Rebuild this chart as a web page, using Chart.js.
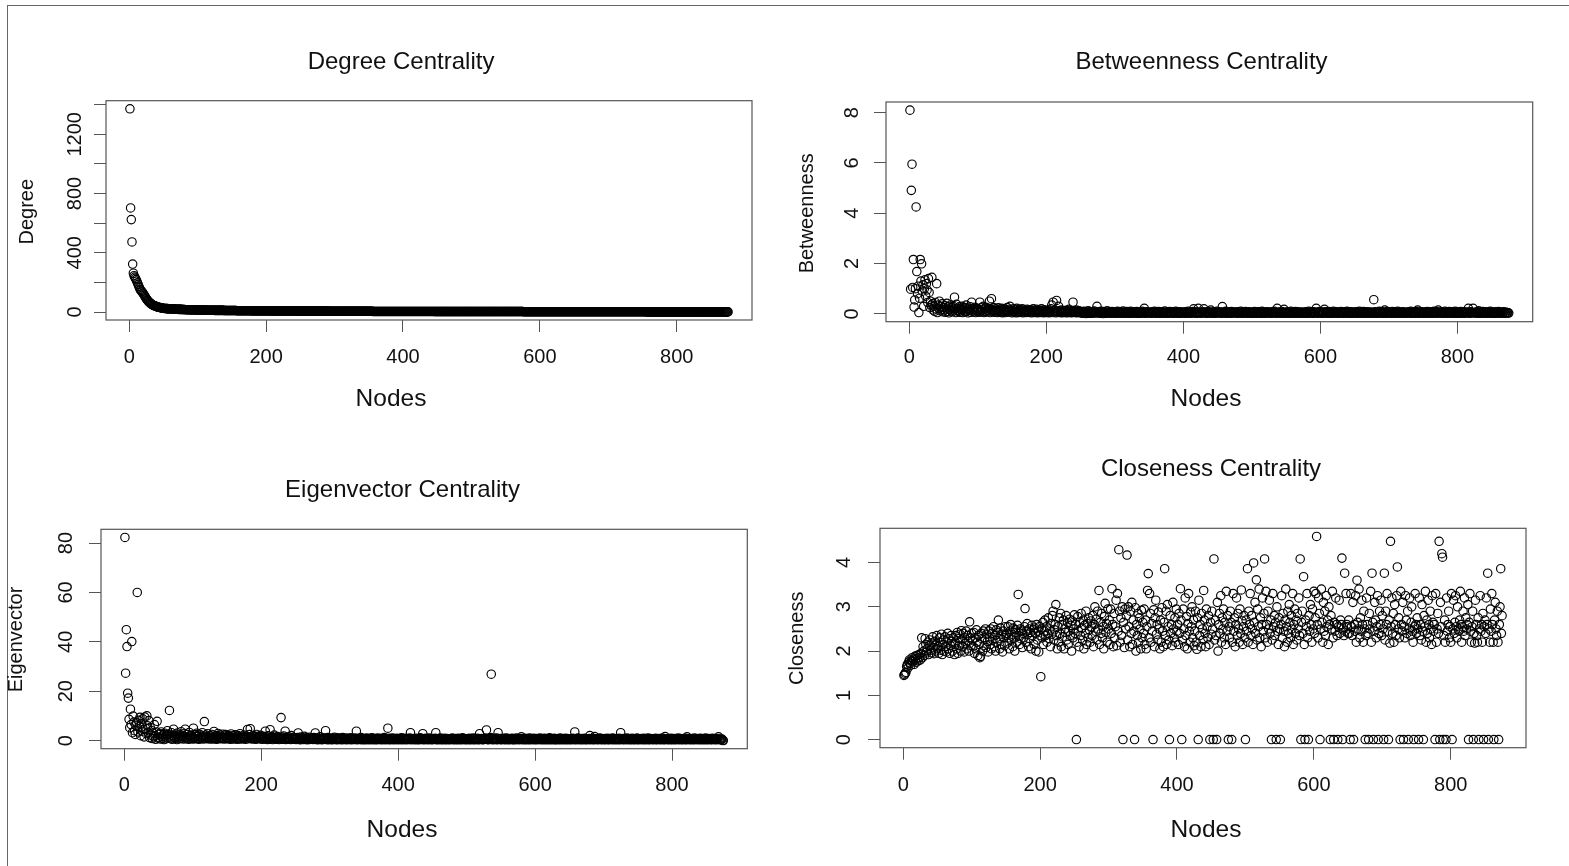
<!DOCTYPE html>
<html>
<head>
<meta charset="utf-8">
<title>Centrality measures</title>
<script src="https://cdn.jsdelivr.net/npm/chart.js@4.4.1/dist/chart.umd.min.js"></script>
<style>
  html, body { margin: 0; padding: 0; background: #fff; }
  #page { position: relative; width: 1569px; height: 866px; overflow: hidden; background: #fff; }
  #frame { position: absolute; left: 7px; top: 5px; right: -4px; bottom: -4px;
           border-left: 1.5px solid #666; border-top: 1.5px solid #666; }
  canvas { position: absolute; }
</style>
</head>
<body>
<div id="page">
  <div id="frame"></div>
  <canvas id="degreeChart"></canvas>
  <canvas id="betweennessChart"></canvas>
  <canvas id="eigenvectorChart"></canvas>
  <canvas id="closenessChart"></canvas>
</div>
<script>
// Nodes are numbered 1..875 in every panel (sorted by degree)
const xTicks = [0, 200, 400, 600, 800];

// Degree centrality, sorted high to low
const degree = [
  1372, 703, 624, 473, 324, 262, 245, 236, 228, 219,
  208, 197, 186, 174, 163, 152, 146, 140, 134, 128,
  121, 113, 105, 97, 90, 83, 77, 72, 67, 63,
  59, 55, 52, 49, 46, 44, 42, 40, 38, 36,
  34, 33, 32, 31, 30, 29, 28, 27, 26, 25,
  24, 24, 24, 23, 23,  23, 22, 22, 22, 21,  21, 21, 21, 20, 20,  20, 20, 19, 19, 19,  19, 18, 18, 18, 18,
  18, 17, 17, 17, 17,  17, 16, 16, 16, 16,  16, 16, 15, 15, 15,  15, 15, 15, 15, 14,  14, 14, 14, 14, 14,
  14, 14, 13, 13, 13,  13, 13, 13, 13, 13,  13, 13, 12, 12, 12,  12, 12, 12, 12, 12,  12, 12, 12, 12, 11,
  11, 11, 11, 11, 11,  11, 11, 11, 11, 11,  11, 11, 11, 10, 10,  10, 10, 10, 10, 10,  10, 10, 10, 10, 10,
  10, 10, 10, 10, 10,  10, 9, 9, 9, 9,  9, 9, 9, 9, 9,  9, 9, 9, 9, 9,  9, 9, 9, 9, 9,
  9, 9, 9, 8, 8,  8, 8, 8, 8, 8,  8, 8, 8, 8, 8,  8, 8, 8, 8, 8,  8, 8, 8, 8, 8,
  8, 8, 8, 8, 8,  8, 7, 7, 7, 7,  7, 7, 7, 7, 7,  7, 7, 7, 7, 7,  7, 7, 7, 7, 7,
  7, 7, 7, 7, 7,  7, 7, 7, 7, 7,  7, 7, 7, 7, 7,  7, 7, 6, 6, 6,  6, 6, 6, 6, 6,
  6, 6, 6, 6, 6,  6, 6, 6, 6, 6,  6, 6, 6, 6, 6,  6, 6, 6, 6, 6,  6, 6, 6, 6, 6,
  6, 6, 6, 6, 6,  6, 6, 6, 6, 6,  6, 6, 6, 6, 6,  5, 5, 5, 5, 5,  5, 5, 5, 5, 5,
  5, 5, 5, 5, 5,  5, 5, 5, 5, 5,  5, 5, 5, 5, 5,  5, 5, 5, 5, 5,  5, 5, 5, 5, 5,
  5, 5, 5, 5, 5,  5, 5, 5, 5, 5,  5, 5, 5, 5, 5,  5, 5, 5, 5, 5,  5, 5, 5, 5, 5,
  5, 5, 5, 5, 5,  4, 4, 4, 4, 4,  4, 4, 4, 4, 4,  4, 4, 4, 4, 4,  4, 4, 4, 4, 4,
  4, 4, 4, 4, 4,  4, 4, 4, 4, 4,  4, 4, 4, 4, 4,  4, 4, 4, 4, 4,  4, 4, 4, 4, 4,
  4, 4, 4, 4, 4,  4, 4, 4, 4, 4,  4, 4, 4, 4, 4,  4, 4, 4, 4, 4,  4, 4, 4, 4, 4,
  4, 4, 4, 4, 4,  4, 4, 4, 4, 4,  4, 4, 4, 4, 4,  4, 4, 4, 4, 4,  3, 3, 3, 3, 3,
  3, 3, 3, 3, 3,  3, 3, 3, 3, 3,  3, 3, 3, 3, 3,  3, 3, 3, 3, 3,  3, 3, 3, 3, 3,
  3, 3, 3, 3, 3,  3, 3, 3, 3, 3,  3, 3, 3, 3, 3,  3, 3, 3, 3, 3,  3, 3, 3, 3, 3,
  3, 3, 3, 3, 3,  3, 3, 3, 3, 3,  3, 3, 3, 3, 3,  3, 3, 3, 3, 3,  3, 3, 3, 3, 3,
  3, 3, 3, 3, 3,  3, 3, 3, 3, 3,  3, 3, 3, 3, 3,  3, 3, 3, 3, 3,  3, 3, 3, 3, 3,
  3, 3, 3, 3, 3,  3, 3, 3, 3, 3,  3, 3, 3, 3, 3,  3, 3, 3, 3, 3,  3, 3, 3, 3, 3,
  2, 2, 2, 2, 2,  2, 2, 2, 2, 2,  2, 2, 2, 2, 2,  2, 2, 2, 2, 2,  2, 2, 2, 2, 2,
  2, 2, 2, 2, 2,  2, 2, 2, 2, 2,  2, 2, 2, 2, 2,  2, 2, 2, 2, 2,  2, 2, 2, 2, 2,
  2, 2, 2, 2, 2,  2, 2, 2, 2, 2,  2, 2, 2, 2, 2,  2, 2, 2, 2, 2,  2, 2, 2, 2, 2,
  2, 2, 2, 2, 2,  2, 2, 2, 2, 2,  2, 2, 2, 2, 2,  2, 2, 2, 2, 2,  2, 2, 2, 2, 2,
  2, 2, 2, 2, 2,  2, 2, 2, 2, 2,  2, 2, 2, 2, 2,  2, 2, 2, 2, 2,  2, 2, 2, 2, 2,
  2, 2, 2, 2, 2,  2, 2, 2, 2, 2,  2, 2, 2, 2, 2,  2, 2, 2, 2, 2,  2, 2, 2, 2, 2,
  2, 2, 2, 2, 2,  2, 2, 2, 2, 2,  2, 2, 2, 2, 2,  2, 2, 2, 2, 2,  2, 2, 2, 2, 2,
  2, 2, 2, 2, 2,  1, 1, 1, 1, 1,  1, 1, 1, 1, 1,  1, 1, 1, 1, 1,  1, 1, 1, 1, 1,
  1, 1, 1, 1, 1,  1, 1, 1, 1, 1,  1, 1, 1, 1, 1,  1, 1, 1, 1, 1,  1, 1, 1, 1, 1,
  1, 1, 1, 1, 1,  1, 1, 1, 1, 1,  1, 1, 1, 1, 1,  1, 1, 1, 1, 1,  1, 1, 1, 1, 1,
  1, 1, 1, 1, 1,  1, 1, 1, 1, 1,  1, 1, 1, 1, 1,  1, 1, 1, 1, 1,  1, 1, 1, 1, 1,
  1, 1, 1, 1, 1,  1, 1, 1, 1, 1,  1, 1, 1, 1, 1,  1, 1, 1, 1, 1,  1, 1, 1, 1, 1
];
const degreeTicks = [0, 200, 400, 600, 800, 1000, 1200, 1400];
const degreeTickLabels = [0, 400, 800, 1200];

// Betweenness centrality, same node order
const betweenness = [
  8.1, .98, 4.91, 5.95, 1.05, 2.16, .27, .55, 1.0, 4.25, 1.68, .8, 1.1, .05, .62, 2.16, 1.3, 1.99, .9, 1.15, .3, 1.0, 1.35, .7, 1.2,
  .95, .45, 1.4, .85, .25, .5, .35, 1.45, .4, .15, .3, .1, .45, .2, 1.2, .05, .35, .22, .5, .12, .3, .18, .4, .08, .25,
  .15, .32, .06, .2, .42, .1, .28, .04, .18, .35, .12, .25, .08, .3, .15, .66, .2, .05, .38, .14, .22, .1, .28, .06, .18,
  .12, .3, .05, .2, .15, .25, .08, .35, .1, .18, .04, .22, .14, .28, .06, .46, .12, .2, .08, .16, .26, .05, .14, .22, .1,
  .18, .06, .46, .12, .24, .08, .15, .3, .05, .2, .1, .26, .07, .16, .12, .22, .5, .05, .18, .6, .1, .14, .25, .06, .12,
  .2, .08, .15, .05, .24, .1, .18, .06, .12, .22, .04, .16, .09, .2, .05, .14, .1, .25, .06, .12, .18, .3, .08, .15, .04,
  .12, .2, .06, .1, .16, .04, .22, .08, .12, .05, .18, .1, .06, .14, .2, .04, .1, .15, .07, .12, .05, .18, .09, .14, .06,
  .1, .16, .04, .12, .08, .2, .05, .14, .1, .06, .18, .04, .12, .08, .15, .05, .1, .2, .06, .12, .04, .16, .08, .1, .05,
  .12, .06, .15, .04, .1, .08, .2, .35, .05, .46, .12, .08, .14, .04, .53, .1, .06, .3, .12, .05, .08, .15, .04, .1, .06,
  .12, .05, .08, .14, .04, .1, .06, .18, .05, .12, .08, .04, .1, .46, .06, .12, .05, .08, .15, .04, .1, .06, .12, .05, .08,
  .05, .02, .08, .04, .1, .03, .06, .01, .07, .05, .12, .02, .04, .09, .03, .06, .02, .08, .05, .11, .03, .07, .04, .3, .06,
  .03, .08, .05, .02, .1, .04, .06, .01, .09, .03, .05, .07, .02, .12, .04, .06, .03, .08, .05, .02, .09, .04, .06, .03, .07,
  .04, .02, .06, .1, .03, .05, .08, .02, .04, .07, .03, .11, .05, .02, .06, .04, .09, .03, .05, .02, .07, .04, .1, .03, .06,
  .02, .05, .08, .03, .06, .04, .09, .02, .05, .03, .07, .04, .02, .06, .1, .03, .05, .22, .04, .02, .08, .05, .03, .06, .04,
  .07, .03, .05, .02, .08, .04, .06, .1, .03, .05, .02, .07, .04, .09, .03, .06, .02, .05, .08, .04, .03, .06, .11, .02, .05,
  .04, .07, .02, .05, .09, .03, .06, .04, .08, .02, .05, .03, .07, .1, .04, .02, .06, .03, .05, .08, .02, .04, .07, .03, .06,
  .03, .05, .08, .02, .06, .04, .1, .03, .05, .07, .02, .06, .04, .09, .2, .03, .05, .08, .02, .04, .06, .22, .03, .07, .05,
  .02, .06, .04, .08, .2, .03, .05, .07, .02, .04, .09, .03, .06, .05, .15, .02, .07, .04, .03, .08, .05, .02, .06, .1, .04,
  .06, .03, .08, .04, .05, .02, .29, .07, .03, .06, .04, .1, .02, .05, .08, .03, .06, .04, .02, .09, .05, .03, .07, .04, .06,
  .03, .07, .05, .02, .08, .04, .06, .03, .1, .05, .02, .07, .04, .06, .03, .09, .05, .02, .04, .08, .03, .06, .05, .02, .07,
  .04, .02, .06, .09, .03, .05, .07, .02, .04, .08, .05, .03, .06, .02, .1, .04, .07, .03, .05, .02, .06, .08, .04, .03, .05,
  .07, .03, .05, .02, .08, .04, .06, .1, .03, .05, .02, .22, .04, .07, .03, .06, .05, .02, .09, .04, .03, .18, .06, .02, .05,
  .04, .08, .02, .06, .03, .05, .1, .04, .02, .07, .05, .03, .06, .09, .02, .04, .08, .03, .05, .02, .06, .04, .07, .03, .05,
  .02, .06, .04, .08, .03, .05, .02, .1, .04, .06, .03, .07, .05, .02, .08, .04, .03, .06, .22, .05, .02, .07, .04, .09, .03,
  .05, .03, .07, .02, .06, .18, .04, .08, .03, .05, .02, .09, .04, .06, .03, .07, .02, .05, .1, .04, .03, .06, .08, .02, .05,
  .04, .07, .02, .05, .09, .03, .06, .04, .02, .08, .05, .03, .06, .1, .02, .04, .07, .03, .05, .08, .02, .06, .04, .03, .07,
  .03, .05, .08, .02, .06, .04, .1, .03, .05, .07, .02, .04, .09, .05, .03, .06, .02, .08, .04, .05, .03, .07, .02, .06, .04,
  .06, .02, .56, .04, .08, .03, .05, .02, .07, .04, .1, .03, .06, .05, .02, .08, .04, .03, .15, .06, .02, .05, .09, .03, .04,
  .07, .03, .05, .02, .09, .04, .06, .03, .08, .02, .05, .04, .1, .03, .06, .02, .07, .05, .03, .04, .08, .02, .06, .04, .05,
  .02, .06, .04, .08, .03, .05, .1, .02, .04, .07, .03, .06, .05, .02, .09, .04, .15, .03, .06, .02, .05, .08, .04, .03, .07,
  .04, .02, .07, .05, .03, .09, .02, .06, .04, .08, .03, .05, .02, .07, .04, .1, .03, .06, .05, .02, .08, .15, .04, .03, .06,
  .05, .03, .08, .02, .06, .04, .1, .03, .05, .07, .02, .04, .09, .03, .06, .05, .02, .08, .04, .03, .06, .1, .02, .05, .04,
  .07, .03, .05, .02, .09, .04, .06, .03, .08, .02, .05, .04, .07, .03, .06, .22, .04, .02, .08, .05, .03, .06, .22, .04, .05,
  .03, .06, .04, .08, .02, .12, .05, .03, .07, .04, .02, .09, .05, .03, .06, .04, .08, .02, .05, .03, .07, .04, .1, .02, .06,
  .04, .07, .03, .05, .02, .08, .04, .06, .03, .09, .05, .02, .06, .04, .07, .03, .05, .08, .02, .04, .06, .03, .05, .04, .03
];
const betweennessTicks = [0, 2, 4, 6, 8];

// Eigenvector centrality
const eigenvector = [
  82.3, 27.3, 44.9, 38.1, 19.2, 17.2, 8.6, 5.2, 12.7, 6.5, 40.1, 3.2, 9.9, 7.5, 4.0, 2.5, 6.2, 7.4, 60.0, 3.5, 8.2, 5.8, 9.4, 2.0, 6.8,
  3.8, 8.8, 4.5, 1.5, 9.5, 5.0, 2.8, 10.0, 6.0, 3.2, 8.1, 1.2, 5.3, 2.2, 4.0, 0.8, 3.0, 1.5, 6.5, 2.0, 0.5, 3.5, 7.8, 1.0, 2.5,
  1.2, 2.8, 0.6, 3.5, 1.8, 0.9, 2.4, 0.4, 3.0, 1.5, 0.7, 2.2, 4.0, 1.0, 2.6, 12.2, 0.8, 1.9, 3.2, 0.5, 2.0, 4.6, 1.3, 0.9, 2.7,
  1.6, 0.4, 3.1, 1.1, 2.3, 0.7, 1.8, 3.6, 0.9, 2.1, 1.4, 0.6, 2.9, 4.6, 1.2, 0.8, 2.5, 1.5, 0.5, 3.3, 1.9, 0.9, 2.2, 1.3, 0.6,
  5.0, 1.0, 2.4, 0.7, 1.6, 3.0, 0.8, 1.9, 0.5, 2.6, 1.2, 0.9, 1.8, 3.2, 0.6, 1.4, 7.7, 1.0, 2.2, 0.7, 1.5, 2.8, 0.9, 1.3, 0.6,
  1.9, 0.8, 2.5, 1.1, 0.6, 3.7, 1.4, 0.9, 2.0, 0.5, 1.6, 2.9, 0.8, 1.2, 2.2, 0.7, 1.5, 0.9, 2.6, 1.1, 0.6, 1.8, 2.4, 0.8, 1.3,
  0.7, 2.1, 1.0, 1.6, 0.5, 2.7, 1.2, 0.8, 1.9, 0.6, 1.4, 2.3, 0.9, 1.1, 0.5, 2.0, 1.5, 0.7, 2.8, 1.0, 0.6, 1.7, 1.2, 0.8, 2.2,
  1.0, 0.5, 1.8, 1.3, 4.5, 0.7, 1.5, 2.4, 4.8, 0.9, 1.2, 0.6, 2.0, 1.4, 0.8, 1.7, 0.5, 2.5, 1.1, 0.7, 1.6, 0.9, 1.3, 2.1, 0.6,
  1.2, 0.5, 1.7, 0.8, 1.1, 3.8, 0.6, 1.4, 0.4, 1.9, 0.9, 0.5, 4.4, 1.2, 0.7, 1.5, 0.4, 1.0, 2.2, 0.6, 1.3, 0.8, 0.5, 1.6, 0.9,
  0.4, 1.1, 0.7, 9.3, 1.4, 0.5, 0.9, 1.8, 0.6, 3.8, 0.4, 1.2, 0.8, 0.5, 1.5, 0.7, 1.0, 0.4, 2.0, 0.6, 0.9, 1.3, 0.5, 0.8, 1.1,
  0.4, 0.7, 1.2, 3.1, 0.5, 0.9, 0.3, 1.4, 0.6, 0.8, 1.0, 0.4, 1.7, 0.5, 0.7, 1.1, 0.3, 0.9, 0.6, 1.3, 0.4, 0.8, 0.5, 1.0, 0.7,
  0.4, 1.2, 0.6, 3.1, 0.5, 0.9, 0.3, 1.0, 0.7, 0.4, 1.5, 0.6, 0.8, 0.3, 1.1, 0.5, 0.7, 0.9, 4.0, 0.4, 0.6, 1.2, 0.3, 0.8, 0.5,
  1.0, 0.4, 0.7, 0.3, 0.9, 0.5, 1.3, 0.6, 0.4, 0.8, 0.3, 1.1, 0.5, 0.7, 0.4, 0.9, 0.6, 0.3, 1.2, 0.5, 0.8, 0.4, 0.6, 1.0, 0.3,
  0.7, 0.5, 0.9, 0.4, 0.6, 1.1, 0.3, 0.8, 0.5, 0.7, 0.4, 1.0, 0.6, 3.8, 0.3, 0.8, 0.5, 0.9, 0.4, 0.6, 1.2, 0.3, 0.7, 0.5, 0.4,
  0.8, 0.3, 0.6, 1.0, 0.4, 0.7, 0.5, 0.3, 0.9, 0.6, 0.4, 1.1, 0.5, 0.3, 0.7, 0.8, 0.4, 0.6, 0.3, 1.0, 0.5, 0.7, 0.4, 0.6, 0.9,
  0.3, 0.5, 0.8, 0.4, 1.2, 0.6, 0.3, 0.7, 0.5, 5.0, 0.4, 0.9, 0.3, 0.6, 0.8, 0.4, 1.0, 0.5, 0.3, 0.7, 0.6, 0.4, 0.9, 0.5, 0.3,
  0.6, 0.8, 0.4, 0.5, 1.1, 0.3, 0.7, 0.5, 0.4, 0.9, 0.6, 0.3, 0.8, 0.5, 0.4, 0.7, 1.0, 3.2, 0.3, 0.6, 0.5, 0.8, 0.4, 0.6, 0.3,
  0.9, 0.5, 0.4, 0.7, 0.3, 0.6, 1.1, 0.4, 0.5, 0.8, 2.8, 0.3, 0.6, 0.4, 0.9, 0.5, 0.7, 0.3, 0.6, 1.0, 0.4, 0.5, 0.8, 0.3, 0.6,
  0.4, 0.7, 0.5, 0.9, 3.2, 0.3, 0.6, 0.4, 0.8, 0.5, 0.3, 1.0, 0.6, 0.4, 0.7, 0.3, 0.5, 0.9, 0.4, 0.6, 0.3, 0.8, 0.5, 0.4, 0.7,
  0.3, 0.6, 0.5, 1.0, 0.4, 0.7, 0.3, 0.5, 0.8, 0.4, 0.6, 0.3, 0.9, 0.5, 0.4, 0.7, 0.3, 0.6, 1.1, 0.4, 0.5, 0.8, 0.3, 0.6, 0.4,
  0.7, 0.5, 0.3, 0.9, 0.4, 0.6, 0.8, 0.3, 0.5, 1.0, 0.4, 0.7, 0.3, 0.6, 0.5, 0.9, 0.4, 0.3, 2.8, 0.6, 0.5, 0.8, 0.4, 0.3, 0.7,
  0.5, 0.9, 0.6, 4.3, 0.4, 0.7, 0.3, 0.8, 0.5, 1.2, 26.9, 0.4, 0.6, 0.3, 0.9, 0.5, 0.7, 0.4, 1.0, 0.3, 3.2, 0.6, 0.5, 0.8, 0.4,
  0.3, 0.7, 0.5, 0.9, 0.4, 0.6, 0.3, 1.0, 0.5, 0.8, 0.4, 0.3, 0.7, 0.6, 0.5, 0.9, 0.3, 0.4, 0.8, 0.6, 0.3, 0.5, 1.0, 0.4, 0.7,
  0.5, 0.3, 0.8, 0.6, 1.5, 0.4, 0.7, 0.3, 0.5, 0.9, 0.4, 0.6, 0.3, 0.8, 0.5, 0.4, 1.0, 0.3, 0.6, 0.7, 0.4, 0.5, 0.9, 0.3, 0.6,
  0.4, 0.8, 0.5, 0.3, 0.7, 0.6, 1.0, 0.4, 0.5, 0.3, 0.8, 0.6, 0.4, 0.9, 0.3, 0.5, 0.7, 0.4, 0.6, 0.3, 1.1, 0.5, 0.4, 0.8, 0.3,
  0.6, 0.5, 0.9, 0.3, 0.4, 0.7, 0.5, 0.3, 0.8, 0.6, 0.4, 1.0, 0.3, 0.5, 0.7, 0.4, 0.6, 0.3, 0.9, 0.5, 0.4, 0.8, 0.3, 0.6, 0.5,
  0.4, 0.7, 0.3, 0.5, 0.9, 0.6, 0.4, 3.5, 0.3, 0.8, 0.5, 0.4, 1.0, 0.6, 0.3, 0.7, 0.5, 0.4, 0.8, 0.3, 0.6, 0.5, 0.9, 0.4, 0.3,
  0.7, 0.5, 0.4, 0.8, 2.0, 0.3, 0.6, 0.5, 0.9, 0.4, 0.3, 1.6, 0.7, 0.5, 0.4, 0.6, 0.3, 0.8, 0.5, 1.0, 0.4, 0.6, 0.3, 0.7, 0.5,
  0.4, 0.8, 0.3, 0.6, 0.5, 0.9, 0.4, 0.3, 0.7, 0.5, 0.6, 0.4, 1.0, 0.3, 0.5, 0.8, 0.4, 0.6, 0.3, 0.7, 0.5, 0.4, 0.9, 0.3, 3.2,
  0.5, 0.6, 0.4, 0.8, 0.3, 0.5, 0.7, 0.4, 1.0, 0.6, 0.3, 0.5, 0.8, 0.4, 0.6, 0.3, 0.9, 0.5, 0.4, 0.7, 0.3, 0.6, 0.5, 1.0, 0.4,
  0.3, 0.7, 0.5, 0.4, 0.8, 0.6, 0.3, 0.5, 0.9, 0.4, 0.6, 0.3, 0.7, 0.5, 1.0, 0.4, 0.3, 0.6, 0.8, 0.5, 0.4, 0.7, 0.3, 0.6, 0.5,
  0.9, 0.4, 0.3, 0.6, 0.5, 0.8, 0.4, 0.7, 0.3, 0.5, 1.0, 0.6, 0.4, 0.3, 1.6, 0.5, 0.7, 0.4, 0.6, 0.3, 0.8, 0.5, 0.4, 0.9, 0.3,
  0.6, 0.5, 0.4, 0.8, 0.3, 0.7, 0.5, 0.4, 1.0, 0.6, 0.3, 0.5, 0.8, 0.4, 0.7, 0.3, 0.6, 0.5, 0.9, 0.4, 0.3, 1.5, 0.5, 0.6, 0.4,
  0.7, 0.3, 0.5, 0.8, 0.4, 0.6, 0.3, 1.0, 0.5, 0.4, 0.7, 0.6, 0.3, 0.8, 0.5, 0.4, 0.9, 0.3, 0.6, 0.5, 0.4, 0.7, 0.3, 1.0, 0.5,
  0.4, 0.6, 0.3, 0.8, 0.5, 0.7, 0.4, 0.3, 0.9, 0.5, 0.6, 0.4, 0.8, 0.3, 0.5, 0.7, 0.4, 1.5, 0.6, 0.3, 0.5, 0.4, 0.6, 0.1, 0.0
];
const eigenvectorTicks = [0, 20, 40, 60, 80];

// Closeness centrality (0 = node not reachable)
const closeness = [
  1.45, 1.47, 1.5, 1.52, 1.65, 1.7, 1.62, 1.75, 1.8, 1.72, 1.68, 1.78, 1.85, 1.76, 1.82, 1.7, 1.88, 1.8, 1.75, 1.9, 1.84, 1.78, 1.92, 1.86, 1.8,
  1.95, 2.3, 1.85, 2.1, 2.0, 1.9, 2.28, 2.15, 1.98, 2.05, 2.2, 1.92, 2.12, 2.25, 2.02, 1.96, 2.18, 2.32, 2.08, 1.94, 2.22, 2.0, 2.14, 2.35, 2.05,
  2.1, 1.95, 2.3, 2.2, 2.02, 2.38, 1.92, 2.15, 2.25, 2.0, 2.32, 2.1, 1.98, 2.2, 2.4, 2.05, 2.28, 1.95, 2.12, 2.35, 2.22, 2.0, 2.3, 2.15, 1.92,
  2.2, 2.35, 2.05, 2.42, 1.95, 2.28, 2.12, 2.38, 2.0, 2.46, 2.25, 2.1, 2.4, 1.98, 2.3, 2.18, 2.45, 2.05, 2.35, 2.22, 2.0, 2.66, 2.3, 2.12, 2.4,
  2.25, 2.1, 2.42, 1.95, 2.3, 2.05, 2.48, 2.2, 1.9, 2.35, 2.15, 1.85, 1.88, 2.4, 2.28, 2.0, 2.45, 2.12, 2.3, 2.5, 2.08, 2.38, 2.22, 1.98, 2.45,
  2.3, 2.15, 2.5, 2.05, 2.4, 2.25, 2.55, 2.1, 2.35, 2.0, 2.48, 2.2, 2.42, 2.7, 2.28, 2.05, 2.52, 2.15, 2.38, 1.98, 2.45, 2.3, 2.12, 2.55, 2.35,
  2.4, 2.18, 2.55, 2.3, 2.05, 2.45, 2.6, 2.25, 2.38, 2.1, 2.52, 2.32, 2.0, 2.48, 2.42, 2.2, 2.58, 3.28, 2.35, 2.15, 2.5, 2.28, 2.45, 2.08, 2.4,
  2.3, 2.55, 2.96, 2.2, 2.45, 2.62, 2.38, 2.1, 2.5, 2.28, 2.42, 2.05, 2.58, 2.35, 2.48, 2.15, 2.52, 2.4, 2.0, 2.6, 2.25, 2.45, 1.98, 2.55, 2.35,
  1.42, 2.5, 2.3, 2.65, 2.15, 2.45, 2.7, 2.35, 2.55, 2.2, 2.4, 2.75, 2.28, 2.5, 2.1, 2.62, 2.38, 2.8, 2.9, 2.25, 2.48, 2.6, 3.05, 2.35, 2.05,
  2.55, 2.2, 2.75, 2.4, 2.85, 2.1, 2.6, 2.32, 2.7, 2.05, 2.5, 2.42, 2.8, 2.25, 2.65, 2.15, 2.45, 2.72, 2.35, 2.58, 2.0, 2.68, 2.3, 2.5, 2.82,
  2.4, 2.6, 0, 2.2, 2.78, 2.45, 2.1, 2.65, 2.35, 2.85, 2.52, 2.25, 2.7, 2.05, 2.58, 2.4, 2.9, 2.15, 2.62, 2.3, 2.75, 2.48, 2.2, 2.68, 2.55,
  2.35, 2.8, 2.1, 2.6, 3.0, 2.45, 2.72, 2.25, 2.9, 2.5, 3.37, 2.15, 2.65, 2.4, 2.85, 2.3, 2.55, 2.05, 2.78, 3.08, 2.42, 2.62, 2.2, 2.95, 2.5,
  2.7, 2.15, 2.95, 2.4, 3.41, 2.6, 2.1, 2.85, 2.3, 2.55, 3.15, 2.12, 3.3, 2.45, 4.29, 2.9, 2.2, 2.75, 2.35, 3.0, 0, 2.65, 2.08, 2.95, 2.5,
  2.8, 4.17, 2.25, 3.0, 2.55, 2.1, 2.9, 2.4, 3.1, 2.15, 2.7, 2.45, 0, 2.98, 2.0, 2.6, 2.35, 2.85, 2.2, 2.75, 2.5, 2.05, 2.92, 2.3, 2.65,
  2.4, 2.95, 2.15, 2.7, 2.05, 2.55, 3.37, 3.75, 2.3, 3.3, 2.85, 2.2, 2.62, 2.45, 0, 2.93, 2.1, 2.75, 3.15, 2.38, 2.6, 2.25, 2.88, 2.5, 2.05,
  2.7, 2.2, 2.98, 2.45, 2.1, 2.65, 3.86, 2.35, 2.9, 2.15, 3.05, 2.55, 2.25, 0, 2.8, 2.4, 2.6, 2.12, 3.1, 2.5, 2.3, 2.75, 2.2, 2.95, 2.45,
  2.6, 2.15, 2.85, 2.4, 3.41, 2.7, 0, 2.25, 2.95, 2.5, 2.1, 3.2, 2.35, 2.78, 2.05, 2.62, 3.3, 2.45, 2.2, 2.88, 2.55, 3.0, 2.3, 2.7, 2.12,
  2.45, 2.9, 2.2, 2.04, 2.75, 0, 3.15, 2.35, 2.6, 2.1, 2.85, 2.5, 2.25, 3.37, 2.7, 2.4, 2.1, 2.95, 2.55, 2.3, 2.8, 2.15, 0, 2.65, 2.38,
  2.9, 2.5, 0, 4.08, 2.25, 2.7, 2.35, 0, 3.1, 2.0, 2.6, 2.85, 2.4, 3.25, 2.2, 2.75, 2.5, 2.95, 2.3, 2.65, 2.15, 3.35, 2.45, 2.8, 0,
  2.55, 2.3, 2.9, 2.65, 0, 2.2, 3.3, 2.45, 2.75, 2.1, 2.6, 3.2, 2.35, 2.85, 2.5, 2.2, 2.95, 2.4, 3.38, 2.68, 2.15, 2.55, 2.8, 2.3, 0,
  2.7, 2.45, 3.86, 2.2, 2.9, 2.6, 3.3, 2.35, 2.8, 2.5, 2.15, 3.99, 2.65, 3.1, 2.4, 3.61, 2.25, 2.95, 2.55, 3.4, 2.3, 2.75, 2.1, 2.6, 3.2,
  2.45, 2.85, 4.08, 2.3, 3.35, 2.6, 2.2, 2.9, 2.5, 3.15, 2.4, 2.7, 0, 2.25, 3.3, 2.55, 2.8, 2.35, 2.65, 0, 3.0, 2.45, 2.15, 2.75, 2.5,
  0, 2.6, 3.25, 2.3, 2.85, 2.45, 2.1, 2.7, 3.4, 2.55, 2.2, 2.9, 2.4, 3.05, 2.65, 2.3, 2.8, 2.5, 3.3, 2.15, 2.6, 2.95, 2.4, 2.7, 2.25,
  2.85, 2.5, 3.2, 2.35, 4.08, 0, 2.65, 2.9, 2.4, 3.68, 2.15, 0, 2.7, 2.55, 3.3, 2.3, 0, 2.8, 2.45, 3.05, 2.6, 2.2, 2.95, 2.5, 3.35,
  2.4, 2.75, 3.3, 4.59, 2.6, 2.3, 3.2, 2.85, 0, 2.5, 3.4, 2.65, 2.2, 3.1, 2.45, 2.9, 2.35, 3.25, 2.55, 2.7, 2.15, 3.0, 2.6, 0, 2.8,
  2.5, 3.35, 2.3, 0, 2.65, 2.45, 3.2, 2.6, 2.35, 0, 2.55, 3.15, 2.4, 2.7, 2.6, 4.1, 0, 2.5, 2.35, 3.76, 2.45, 3.3, 2.6, 2.55, 2.4,
  2.7, 2.4, 0, 3.3, 2.55, 2.35, 3.1, 0, 2.6, 2.45, 3.25, 2.2, 3.6, 2.65, 2.5, 3.4, 2.3, 2.75, 2.45, 3.15, 2.6, 2.2, 2.9, 2.5, 0,
  2.35, 3.2, 2.6, 2.4, 0, 2.85, 2.5, 3.35, 2.2, 3.76, 2.65, 0, 2.45, 3.1, 2.7, 2.3, 2.55, 3.25, 0, 2.4, 2.9, 2.6, 3.15, 2.35, 2.8,
  2.5, 0, 3.76, 2.25, 2.9, 2.6, 3.3, 2.45, 0, 2.7, 2.18, 4.48, 2.55, 3.2, 2.4, 2.85, 2.2, 3.05, 2.6, 2.35, 3.25, 3.9, 2.5, 2.75, 2.3,
  0, 3.35, 2.6, 2.45, 3.1, 0, 2.55, 2.3, 3.25, 2.7, 2.4, 2.9, 0, 2.5, 3.2, 2.35, 2.65, 3.0, 2.45, 2.2, 0, 2.55, 3.3, 2.6, 2.4,
  2.75, 2.5, 0, 3.2, 2.35, 2.6, 2.25, 3.05, 2.45, 0, 2.8, 2.55, 3.35, 2.2, 2.7, 2.4, 3.15, 2.6, 2.3, 2.9, 2.5, 2.15, 3.25, 2.65, 2.45,
  2.6, 0, 3.3, 2.2, 2.5, 2.85, 2.4, 4.48, 0, 3.1, 2.55, 4.2, 4.12, 0, 2.35, 2.7, 2.2, 0, 3.2, 2.45, 2.6, 2.9, 2.3, 2.55, 2.2,
  3.3, 0, 2.5, 3.15, 2.4, 2.65, 3.25, 2.55, 2.3, 3.0, 2.5, 2.45, 2.7, 3.35, 2.6, 2.2, 2.55, 2.9, 2.45, 3.2, 2.35, 2.75, 2.5, 2.6, 3.05,
  0, 2.65, 3.3, 2.45, 2.2, 2.55, 2.9, 0, 2.4, 2.18, 3.15, 2.6, 2.35, 2.2, 2.75, 0, 2.5, 3.25, 2.45, 2.6, 2.2, 2.85, 0, 2.55, 2.7,
  2.4, 3.2, 2.6, 3.76, 0, 2.5, 2.2, 2.95, 2.45, 3.3, 2.6, 2.2, 0, 2.7, 3.1, 2.5, 2.35, 2.9, 2.2, 0, 2.6, 3.0, 3.86, 2.4, 2.8
];
const closenessTicks = [0, 1, 2, 3, 4];

const fontFamily = '"Liberation Sans", Arial, Helvetica, sans-serif';
const inkColor = '#111';
const lineColor = '#555';

// Where each panel sits on the page: frame = [x, y, w, h], area = plot box [left, top, right, bottom]
const panels = [
  { canvas: 'degreeChart', values: degree, yTicks: degreeTicks, yTickLabels: degreeTickLabels,
    title: 'Degree Centrality', yTitle: 'Degree',
    frame: [0, 0, 784, 433], area: [106, 100.7, 752, 320],
    titleAt: [401, 68.5], xTitleAt: [391, 405.5], yTitleAt: [33, 211.7], yTickX: 81, xTickBase: 364.5 },
  { canvas: 'betweennessChart', values: betweenness, yTicks: betweennessTicks, yTickLabels: betweennessTicks,
    title: 'Betweenness Centrality', yTitle: 'Betweenness',
    frame: [784, 0, 785, 433], area: [886, 102, 1532.7, 321.7],
    titleAt: [1201.5, 68.5], xTitleAt: [1206, 405.5], yTitleAt: [813, 213.3], yTickX: 858, xTickBase: 364.5 },
  { canvas: 'eigenvectorChart', values: eigenvector, yTicks: eigenvectorTicks, yTickLabels: eigenvectorTicks,
    title: 'Eigenvector Centrality', yTitle: 'Eigenvector',
    frame: [0, 433, 784, 433], area: [101, 529.3, 747.3, 748.7],
    titleAt: [402.5, 496.5], xTitleAt: [402, 836.5], yTitleAt: [21.5, 639.5], yTickX: 71.7, xTickBase: 792.5 },
  { canvas: 'closenessChart', values: closeness, yTicks: closenessTicks, yTickLabels: closenessTicks,
    title: 'Closeness Centrality', yTitle: 'Closeness',
    frame: [784, 433, 785, 433], area: [880, 528.3, 1526, 747.7],
    titleAt: [1211, 475.5], xTitleAt: [1206, 836.5], yTitleAt: [803, 638.3], yTickX: 850, xTickBase: 792.5 }
];

Chart.defaults.font.family = fontFamily;
Chart.defaults.color = inkColor;

// R pads the data range by 4% on each side
function paddedRange(values) {
  let lo = Infinity, hi = -Infinity;
  values.forEach(v => { if (v < lo) lo = v; if (v > hi) hi = v; });
  const pad = (hi - lo) * 0.04;
  return [lo - pad, hi + pad];
}

function rotatedText(ctx, text, x, y) {
  ctx.save();
  ctx.translate(x, y);
  ctx.rotate(-Math.PI / 2);
  ctx.fillText(text, 0, 0);
  ctx.restore();
}

function drawPanel(p) {
  const canvas = document.getElementById(p.canvas);
  const [fx, fy, fw, fh] = p.frame;
  const [left, top, right, bottom] = p.area;
  canvas.width = fw;
  canvas.height = fh;
  canvas.style.left = fx + 'px';
  canvas.style.top = fy + 'px';

  const yAxisWidth = 14, xAxisHeight = 60, tickLen = 12;
  const nodes = p.values.map((v, i) => i + 1);
  const [xMin, xMax] = paddedRange(nodes);
  const [yMin, yMax] = paddedRange(p.values);

  // box, titles and the rotated y labels, the way R lays them out
  const panelText = {
    id: 'panelText',
    afterDraw(chart) {
      const ctx = chart.ctx;
      const a = chart.chartArea;
      ctx.save();
      ctx.strokeStyle = lineColor;
      ctx.lineWidth = 1.2;
      ctx.strokeRect(a.left, a.top, a.right - a.left, a.bottom - a.top);

      ctx.fillStyle = inkColor;
      ctx.textAlign = 'center';
      ctx.textBaseline = 'alphabetic';
      ctx.font = '24px ' + fontFamily;
      ctx.fillText(p.title, p.titleAt[0] - fx, p.titleAt[1] - fy);
      ctx.font = '24.5px ' + fontFamily;
      ctx.fillText('Nodes', p.xTitleAt[0] - fx, p.xTitleAt[1] - fy);

      ctx.font = '20px ' + fontFamily;
      rotatedText(ctx, p.yTitle, p.yTitleAt[0] - fx, p.yTitleAt[1] - fy);
      const yScale = chart.scales.y;
      p.yTickLabels.forEach(v => {
        rotatedText(ctx, String(v), p.yTickX - fx, yScale.getPixelForValue(v));
      });
      ctx.restore();
    }
  };

  return new Chart(canvas, {
    type: 'scatter',
    data: {
      datasets: [{
        data: p.values.map((v, i) => ({ x: i + 1, y: v })),
        pointStyle: 'circle',
        pointRadius: 4.2,
        pointBorderWidth: 1.15,
        pointBorderColor: '#000',
        pointBackgroundColor: 'rgba(0,0,0,0)',
        showLine: false
      }]
    },
    options: {
      responsive: false,
      animation: false,
      events: [],
      layout: {
        padding: {
          left: left - fx - yAxisWidth,
          top: top - fy,
          right: fx + fw - right,
          bottom: fy + fh - bottom - xAxisHeight
        }
      },
      plugins: {
        legend: { display: false },
        tooltip: { enabled: false },
        title: { display: false }
      },
      scales: {
        x: {
          type: 'linear',
          min: xMin,
          max: xMax,
          afterBuildTicks: s => { s.ticks = xTicks.map(v => ({ value: v })); },
          afterFit: s => { s.height = xAxisHeight; },
          border: { display: false },
          grid: { drawOnChartArea: false, drawTicks: true, tickLength: tickLen, color: lineColor, lineWidth: 1 },
          ticks: {
            color: inkColor,
            font: { size: 20 },
            padding: p.xTickBase - bottom - tickLen - 19,
            maxRotation: 0,
            autoSkip: false
          }
        },
        y: {
          type: 'linear',
          min: yMin,
          max: yMax,
          afterBuildTicks: s => { s.ticks = p.yTicks.map(v => ({ value: v })); },
          afterFit: s => { s.width = yAxisWidth; },
          border: { display: false },
          grid: { drawOnChartArea: false, drawTicks: true, tickLength: tickLen, color: lineColor, lineWidth: 1 },
          ticks: { display: false }
        }
      }
    },
    plugins: [panelText]
  });
}

panels.forEach(drawPanel);
</script>
</body>
</html>
